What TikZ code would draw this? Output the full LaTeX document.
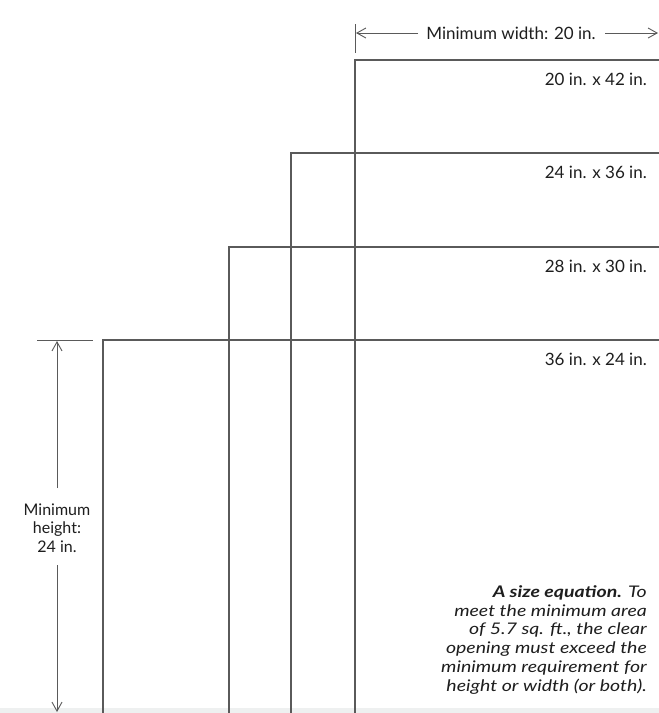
\documentclass[tikz,border=0pt]{standalone}
\usepackage{fontspec}
\setmainfont{Lato}
\newfontfamily\capfont[FakeStretch=1.22]{Lato}
\usetikzlibrary{arrows.meta}
\definecolor{ln}{HTML}{5A5A5A}
\definecolor{tx}{HTML}{1E1E1E}
\tikzset{
  rim/.style={draw=ln, line width=1.1pt},
  dimline/.style={draw=ln, line width=0.9pt},
  dimtip/.style={-{Straight Barb[length=9pt,width=10pt,line width=0.9pt]}},
  lbl/.style={text=tx, font=\fontsize{17}{18}\selectfont, inner sep=0pt, anchor=base east},
}
\begin{document}
\begin{tikzpicture}[x=1pt,y=-1pt]
\useasboundingbox (0,0) rectangle (659,713);
\fill[white] (0,0) rectangle (659,713);
\fill[color={rgb,255:red,238;green,240;blue,240}] (0,708) rectangle (659,713);
% rectangles (only top-left corners visible)
\coordinate (a1) at (355,713); \coordinate (a2) at (355,60); \coordinate (a3) at (659,60);
\coordinate (b1) at (291,713); \coordinate (b2) at (291,153); \coordinate (b3) at (659,153);
\coordinate (c1) at (229,713); \coordinate (c2) at (229,247); \coordinate (c3) at (659,247);
\coordinate (d1) at (103,713); \coordinate (d2) at (103,340); \coordinate (d3) at (659,340);
\draw[rim] (a1) -- (a2) -- (a3);
\draw[rim] (b1) -- (b2) -- (b3);
\draw[rim] (c1) -- (c2) -- (c3);
\draw[rim] (d1) -- (d2) -- (d3);
% size labels
\node[lbl] (l1) at (647,85) {20 in. x 42 in.};
\node[lbl] (l2) at (647,178) {24 in. x 36 in.};
\node[lbl] (l3) at (647,272) {28 in. x 30 in.};
\node[lbl] (l4) at (647,365) {36 in. x 24 in.};
% width dimension
\coordinate (wt1) at (355,24); \coordinate (wt2) at (355,53);
\draw[dimline] (wt1) -- (wt2);
\node[text=tx, font=\fontsize{17}{18}\selectfont, inner sep=0pt, anchor=base] (wl) at (511,39) {Minimum width: 20 in.};
\coordinate (wa) at (356,33); \coordinate (wb) at (418,33);
\coordinate (wc) at (605,33); \coordinate (wd) at (658,33);
\draw[dimline, dimtip] (wb) -- (wa);
\draw[dimline, dimtip] (wc) -- (wd);
% height dimension
\coordinate (ht1) at (37,340); \coordinate (ht2) at (93,340);
\draw[dimline] (ht1) -- (ht2);
\coordinate (ha) at (57,341); \coordinate (hb) at (57,488);
\coordinate (hc) at (57,565); \coordinate (hd) at (57,712);
\draw[dimline, dimtip] (hb) -- (ha);
\draw[dimline, dimtip] (hc) -- (hd);
\node[text=tx, font=\fontsize{16}{18.5}\selectfont, align=center, inner sep=0pt, anchor=base] (hl) at (57,552) {Minimum\\height:\\24 in.};
% caption
\node[text=tx, font=\capfont\fontsize{16}{18.7}\selectfont\itshape, align=right, inner sep=0pt, anchor=base east] (cap) at (647,691)
 {\textbf{A size equation.} To\\meet the minimum area\\of 5.7 sq. ft., the clear\\opening must exceed the\\minimum requirement for\\height or width (or both).};
\end{tikzpicture}
\end{document}
